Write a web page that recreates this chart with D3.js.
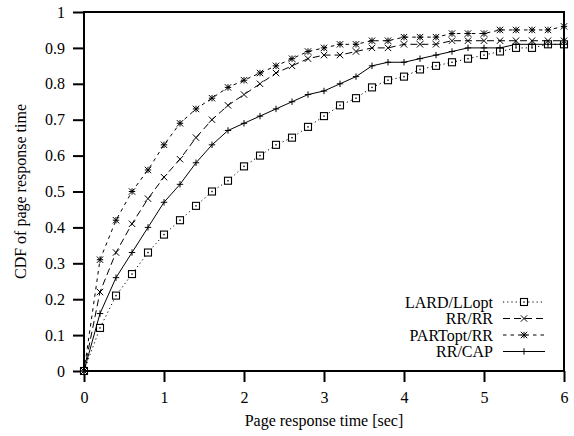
<!DOCTYPE html>
<html><head><meta charset="utf-8">
<script src="https://cdn.jsdelivr.net/npm/d3@7"></script>
<style>body{margin:0;background:#fff}svg{display:block}text{font-family:"Liberation Serif","Times New Roman",serif;font-size:16px;fill:#000}</style>
</head><body>
<script>
const xs = [0,0.2,0.4,0.6,0.8,1.0,1.2,1.4,1.6,1.8,2.0,2.2,2.4,2.6,2.8,3.0,3.2,3.4,3.6,3.8,4.0,4.2,4.4,4.6,4.8,5.0,5.2,5.4,5.6,5.8,6.0];
const lardLLopt = [0,0.12,0.21,0.27,0.33,0.38,0.42,0.46,0.50,0.53,0.57,0.60,0.63,0.65,0.68,0.71,0.74,0.76,0.79,0.81,0.82,0.84,0.85,0.86,0.87,0.88,0.89,0.90,0.90,0.91,0.91];
const rrRR = [0,0.22,0.33,0.41,0.48,0.54,0.59,0.65,0.70,0.74,0.77,0.80,0.83,0.85,0.87,0.88,0.88,0.89,0.90,0.90,0.91,0.91,0.91,0.92,0.92,0.92,0.92,0.92,0.92,0.92,0.92];
const partoptRR = [0,0.31,0.42,0.50,0.56,0.63,0.69,0.73,0.76,0.79,0.81,0.83,0.85,0.87,0.89,0.90,0.91,0.91,0.92,0.92,0.93,0.93,0.93,0.94,0.94,0.94,0.95,0.95,0.95,0.95,0.96];
const rrCAP = [0,0.16,0.26,0.33,0.40,0.47,0.52,0.58,0.63,0.67,0.69,0.71,0.73,0.75,0.77,0.78,0.80,0.82,0.85,0.86,0.86,0.87,0.88,0.89,0.90,0.90,0.90,0.91,0.91,0.91,0.91];
const seriesNames = ["LARD/LLopt","RR/RR","PARTopt/RR","RR/CAP"];
const xTicks = [0,1,2,3,4,5,6];
const yTicks = [0,0.1,0.2,0.3,0.4,0.5,0.6,0.7,0.8,0.9,1];

const W=574,H=436;
const L=84,R=564,T=12,B=371;
const svg=d3.select("body").append("svg").attr("width",W).attr("height",H);
const x=d3.scaleLinear().domain([0,6]).range([L,R]);
const y=d3.scaleLinear().domain([0,1]).range([B,T]);

const series=[
 {name:seriesNames[0],vals:lardLLopt,dash:"1.2,3",marker:"square"},
 {name:seriesNames[1],vals:rrRR,dash:"7,4",marker:"x"},
 {name:seriesNames[2],vals:partoptRR,dash:"3.5,4",marker:"star"},
 {name:seriesNames[3],vals:rrCAP,dash:null,marker:"plus"}
];

function drawMarker(g,type,cx,cy){
  const s=3.2;
  if(type==="square"){
    const q=3.5;
    g.append("rect").attr("x",cx-q).attr("y",cy-q).attr("width",2*q).attr("height",2*q).attr("fill","#fff").attr("stroke","#000").attr("stroke-width",1.1);
    g.append("rect").attr("x",cx-0.7).attr("y",cy-0.7).attr("width",1.4).attr("height",1.4).attr("fill","#000");
  } else {
    const p=d3.path();
    if(type==="x"||type==="star"){p.moveTo(cx-s,cy-s);p.lineTo(cx+s,cy+s);p.moveTo(cx-s,cy+s);p.lineTo(cx+s,cy-s);}
    if(type==="plus"||type==="star"){p.moveTo(cx-s,cy);p.lineTo(cx+s,cy);p.moveTo(cx,cy-s);p.lineTo(cx,cy+s);}
    g.append("path").attr("d",p.toString()).attr("stroke","#000").attr("stroke-width",1).attr("fill","none");
  }
}

// axes
const xAxis=d3.axisBottom(x).tickValues(xTicks).tickFormat(d3.format("d")).tickSize(11).tickPadding(10);
const gx=svg.append("g").attr("transform",`translate(0,${B})`).call(xAxis);
const yAxis=d3.axisLeft(y).tickValues(yTicks).tickFormat(d=>d===0?"0":d===1?"1":d3.format(".1f")(d)).tickSize(11).tickPadding(8);
const gy=svg.append("g").attr("transform",`translate(${L},0)`).call(yAxis);
[gx,gy].forEach(g=>{g.attr("font-family",null).attr("font-size",null);g.select(".domain").remove();g.selectAll(".tick line").attr("stroke","#000").attr("stroke-width",2);});

// lines
const line=d3.line().x((d,i)=>x(xs[i])).y(d=>y(d));
series.forEach(s=>{
  svg.append("path").datum(s.vals).attr("d",line).attr("fill","none").attr("stroke","#000").attr("stroke-width",1).attr("stroke-dasharray",s.dash);
});
series.forEach(s=>{
  const g=svg.append("g");
  s.vals.forEach((v,i)=>drawMarker(g,s.marker,x(xs[i]),y(v)));
});

// frame
svg.append("rect").attr("x",L).attr("y",T).attr("width",R-L).attr("height",B-T).attr("fill","none").attr("stroke","#000").attr("stroke-width",2);

// legend
const legY=[302,318.5,335,351.5];
series.forEach((s,i)=>{
  const ly=legY[i];
  svg.append("text").attr("x",493).attr("y",ly).attr("dy","0.35em").attr("text-anchor","end").text(s.name);
  svg.append("line").attr("x1",503).attr("x2",545).attr("y1",ly).attr("y2",ly).attr("stroke","#000").attr("stroke-width",1).attr("stroke-dasharray",s.dash);
  drawMarker(svg.append("g"),s.marker,524,ly);
});

// labels
svg.append("text").attr("x",(L+R)/2).attr("y",426).attr("text-anchor","middle").text("Page response time [sec]");
svg.append("text").attr("transform",`translate(20,${(T+B)/2}) rotate(-90)`).attr("text-anchor","middle").attr("dy","0.35em").text("CDF of page response time");
</script>
</body></html>
